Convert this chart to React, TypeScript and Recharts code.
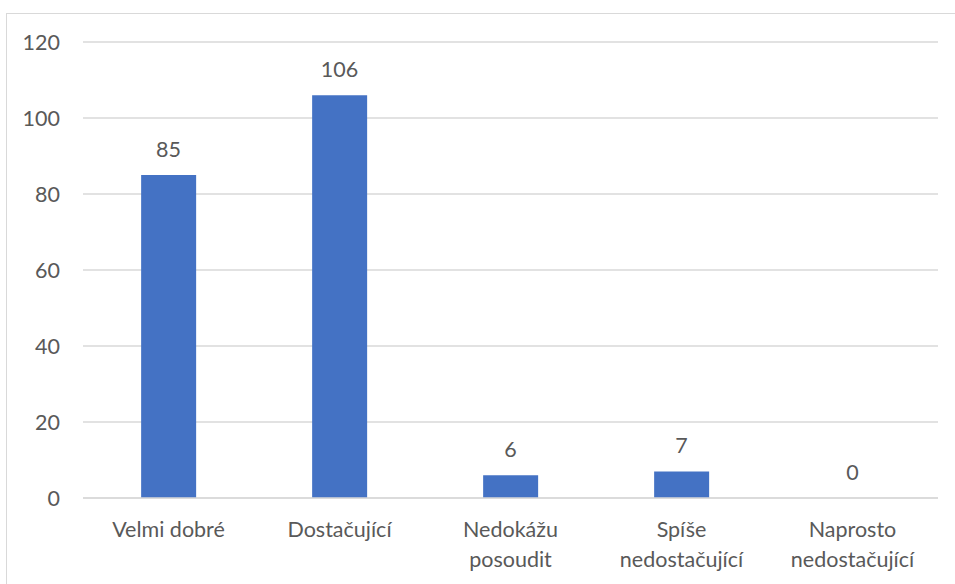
import { ComposedChart, Bar, Line, XAxis, YAxis, CartesianGrid } from "recharts";

// ---------- Data ----------

const CATEGORIES = [
    ["Velmi dobré"],
    ["Dostačující"],
    ["Nedokážu", "posoudit"],
    ["Spíše", "nedostačující"],
    ["Naprosto", "nedostačující"],
];
const VALUES = [85, 106, 6, 7, 0];
const Y_TICKS = [0, 20, 40, 60, 80, 100, 120];

const BAR_COLOR = "#4472C4";
const GRID_COLOR = "#d9d9d9";
const TEXT_COLOR = "#595959";
const FONT = "Lato, 'Noto Sans', sans-serif";
const FONT_SIZE = 21.5;

const chartData = CATEGORIES.map((lines, i) => ({
    name: lines.join("\n"),
    value: VALUES[i],
}));

// ---------- Multi-line category tick ----------

function CategoryTick({ x, y, payload }: any) {
    const lines = String(payload.value).split("\n");
    return (
        <text x={x} y={y} textAnchor="middle" fill={TEXT_COLOR} fontSize={FONT_SIZE} fontFamily={FONT}>
            {lines.map((line, i) => (
                <tspan key={i} x={x} dy={i === 0 ? 37 : 30}>
                    {line}
                </tspan>
            ))}
        </text>
    );
}

// value label above each bar; drawn from an invisible line so the zero bar gets one too
function ValueLabel({ x, y, value }: any) {
    return (
        <text x={x} y={Number(y) - 18} textAnchor="middle" fill={TEXT_COLOR} fontSize={FONT_SIZE} fontFamily={FONT}>
            {value}
        </text>
    );
}

export default function App() {
    return (
        <div style={{ position: "absolute", left: 0, top: 0, width: 955, height: 584, overflow: "hidden", background: "#fff" }}>
            {/* chart frame */}
            <div
                style={{
                    position: "absolute",
                    left: 6,
                    top: 13,
                    width: 980,
                    height: 620,
                    border: `1px solid ${GRID_COLOR}`,
                }}
            />
            <div style={{ position: "absolute", left: 0, top: 0 }}>
                <ComposedChart
                    width={955}
                    height={584}
                    data={chartData}
                    margin={{ top: 42, right: 17, bottom: 0, left: 23 }}
                    barCategoryGap="34%"
                >
                    <CartesianGrid vertical={false} stroke={GRID_COLOR} strokeWidth={1.3} />
                    <XAxis
                        dataKey="name"
                        tick={<CategoryTick />}
                        tickLine={false}
                        axisLine={{ stroke: GRID_COLOR, strokeWidth: 1.3 }}
                        interval={0}
                        height={86}
                        tickSize={0}
                    />
                    <YAxis
                        domain={[0, 120]}
                        ticks={Y_TICKS}
                        width={60}
                        tickLine={false}
                        axisLine={false}
                        tickSize={0}
                        tickMargin={23}
                        tick={{ fill: TEXT_COLOR, fontSize: FONT_SIZE, fontFamily: FONT }}
                    />
                    <Bar dataKey="value" fill={BAR_COLOR} isAnimationActive={false} />
                    <Line
                        dataKey="value"
                        stroke="none"
                        dot={false}
                        activeDot={false}
                        legendType="none"
                        isAnimationActive={false}
                        label={<ValueLabel />}
                    />
                </ComposedChart>
            </div>
        </div>
    );
}
